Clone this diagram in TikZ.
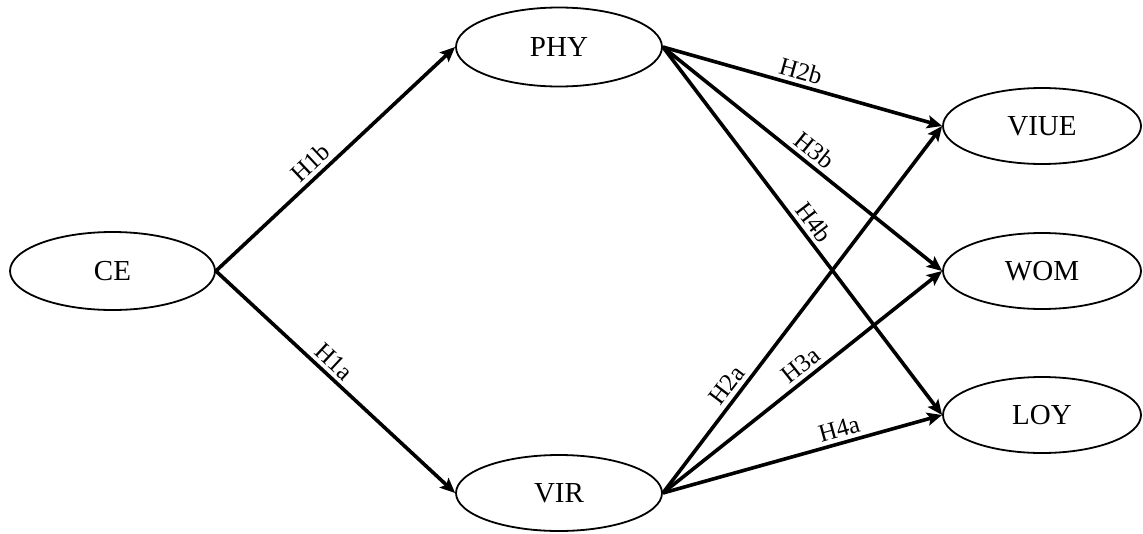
\documentclass[tikz,border=0pt]{standalone}
\usepackage{fontspec}
\setmainfont{Liberation Serif}
\usetikzlibrary{shapes.geometric,arrows.meta}
\begin{document}
\begin{tikzpicture}[x=1pt,y=-1pt,
  var/.style={ellipse, draw, line width=1.8pt, inner sep=0pt, font=\fontsize{29}{33}\selectfont},
  path/.style={line width=3.6pt, -{Stealth[length=15pt,width=13pt,inset=3pt]}},
  lab/.style={sloped, above=3pt, inner sep=1pt, font=\fontsize{25}{29}\selectfont}]
\useasboundingbox (0,0) rectangle (1143,533);
\node[var, minimum width=205pt, minimum height=78pt] (ce) at (112.5,271) {CE};
\node[var, minimum width=206pt, minimum height=79pt] (phy) at (559,47) {PHY};
\node[var, minimum width=206pt, minimum height=76pt] (vir) at (559,493) {VIR};
\node[var, minimum width=198pt, minimum height=76pt] (viue) at (1042,126) {VIUE};
\node[var, minimum width=198pt, minimum height=76pt] (wom) at (1042,271) {WOM};
\node[var, minimum width=198pt, minimum height=76pt] (loy) at (1042,415) {LOY};
\draw[path] (ce.east) -- node[lab, pos=0.435] {H1b} (phy.west);
\draw[path] (ce.east) -- node[lab, pos=0.455] {H1a} (vir.west);
\draw[path] (phy.east) -- node[lab, pos=0.48] {H2b} (viue.west);
\draw[path] (phy.east) -- node[lab, pos=0.51] {H3b} (wom.west);
\draw[path] (phy.east) -- node[lab, pos=0.50] {H4b} (loy.west);
\draw[path] (vir.east) -- node[lab, pos=0.27] {H2a} (viue.west);
\draw[path] (vir.east) -- node[lab, pos=0.525] {H3a} (wom.west);
\draw[path] (vir.east) -- node[lab, pos=0.645] {H4a} (loy.west);
\end{tikzpicture}
\end{document}
